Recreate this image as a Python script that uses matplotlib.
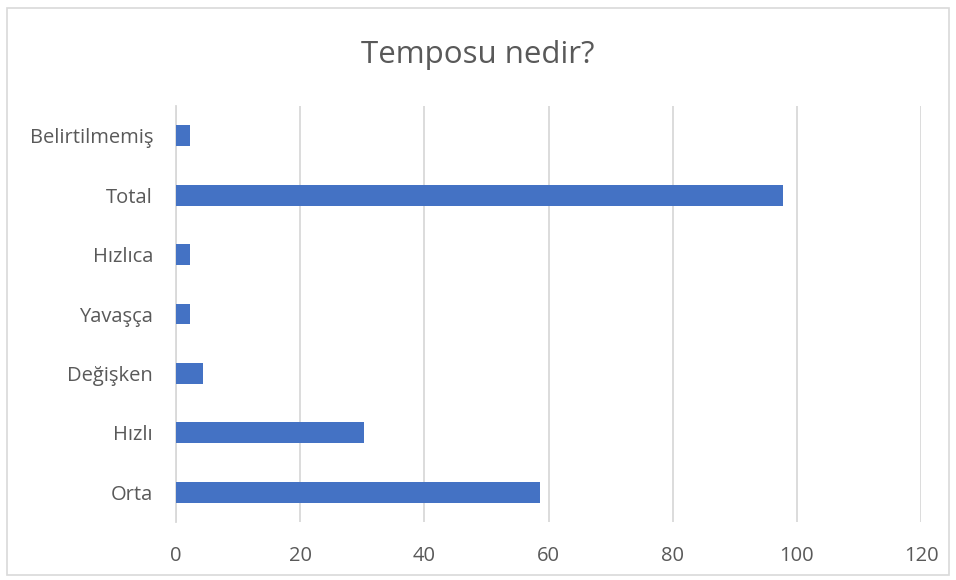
import matplotlib.pyplot as plt
from matplotlib.patches import Rectangle

# Datos
categorias = ['Orta', 'Hızlı', 'Değişken', 'Yavaşça', 'Hızlıca', 'Total', 'Belirtilmemiş']
valores = [58.6, 30.3, 4.3, 2.2, 2.2, 97.7, 2.2]
ticks_x = [0, 20, 40, 60, 80, 100, 120]

texto = '#595959'
rejilla = '#d9d9d9'
azul = '#4472c4'

plt.rcParams['font.family'] = ['Open Sans', 'DejaVu Sans']

fig = plt.figure(figsize=(9.56, 5.80), dpi=100)
ax = fig.add_axes([0.1841, 0.1, 0.7793, 0.717])

pos = range(len(categorias))
ax.barh(pos, valores, height=0.35, color=azul, zorder=3)

ax.set_xlim(0, 120)
ax.set_ylim(-0.5, len(categorias) - 0.5)
ax.set_xticks(ticks_x)
ax.set_xticklabels([str(t) for t in ticks_x])
ax.set_yticks(list(pos))
ax.set_yticklabels(categorias)
ax.tick_params(axis='both', length=0, labelsize=14.5, colors=texto)
ax.tick_params(axis='x', pad=17)
ax.tick_params(axis='y', pad=16.5)

ax.grid(axis='x', color=rejilla, linewidth=1.3, zorder=0)
for lado in ['top', 'right', 'bottom']:
    ax.spines[lado].set_visible(False)
ax.spines['left'].set_color(rejilla)
ax.spines['left'].set_linewidth(1.3)

fig.text(0.5, 0.905, 'Temposu nedir?', ha='center', va='center', fontsize=22.5, color=texto)

# Marco exterior del gráfico
fig.patches.append(Rectangle((7 / 956, 5 / 580), 942 / 956, 567 / 580, transform=fig.transFigure,
                             fill=False, edgecolor=rejilla, linewidth=1.2))

fig.savefig('out.png', dpi=100)
